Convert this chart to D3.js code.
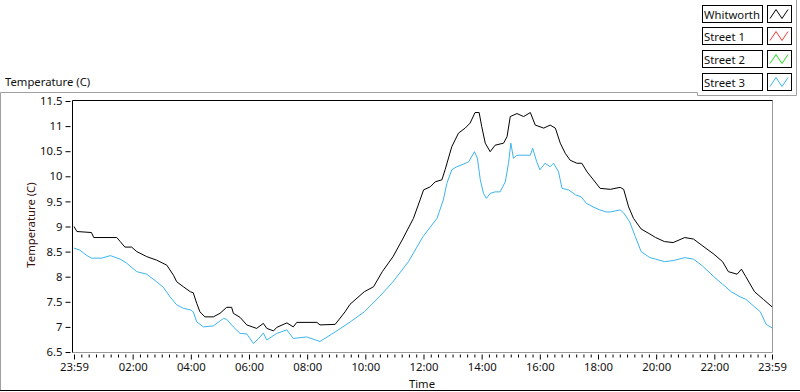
<!DOCTYPE html>
<html><head><meta charset="utf-8">
<script src="https://cdn.jsdelivr.net/npm/d3@7"></script>
<style>
html,body{margin:0;padding:0;background:#fff;}
svg{display:block;}
text{font-family:"Noto Sans","Open Sans",sans-serif;font-size:11.3px;fill:#111;}
</style></head>
<body>
<svg id="chart" width="800" height="392"></svg>
<script>
// ---- data (hours elapsed since 23:59, temperature in C) ----
const seriesNames = ["Whitworth", "Street 1", "Street 2", "Street 3"];
const seriesColors = ["#000000", "#f03c3c", "#1ee01e", "#3cb4f0"];

const whitworthHours = [0,0.1,0.6,0.68,1.47,1.59,1.75,1.98,2.16,2.5,2.84,3.19,3.42,3.53,3.76,4.0,4.1,4.22,4.33,4.5,4.79,5.02,5.25,5.42,5.48,5.71,5.94,6.28,6.51,6.63,6.86,6.97,7.32,7.54,7.66,8.35,8.46,8.98,9.32,9.49,9.98,10.3,10.6,10.97,11.3,11.67,11.9,12.02,12.25,12.42,12.65,12.76,12.99,13.22,13.45,13.62,13.79,13.93,14.02,14.14,14.31,14.48,14.77,14.89,15.0,15.23,15.46,15.69,15.86,16.15,16.37,16.55,16.72,16.89,17.06,17.29,17.46,17.64,17.86,18.09,18.44,18.78,18.9,19.07,19.24,19.5,19.8,20.0,20.3,20.6,21.0,21.3,21.6,22.0,22.3,22.5,22.8,22.95,23.1,23.4,23.7,24];
const whitworthTemps = [9.0,8.9,8.88,8.78,8.78,8.70,8.59,8.59,8.50,8.40,8.33,8.23,8.03,7.90,7.80,7.70,7.68,7.47,7.30,7.20,7.20,7.27,7.39,7.39,7.27,7.19,7.04,6.97,7.07,6.97,6.92,6.99,7.08,7.00,7.09,7.09,7.04,7.05,7.3,7.45,7.7,7.8,8.1,8.4,8.75,9.16,9.53,9.73,9.79,9.89,9.93,10.13,10.59,10.86,10.96,11.06,11.27,11.27,10.99,10.66,10.49,10.62,10.66,10.79,11.19,11.25,11.19,11.27,11.02,10.96,11.02,10.96,10.66,10.46,10.32,10.26,10.26,10.09,9.93,9.76,9.74,9.78,9.74,9.39,9.16,8.95,8.85,8.78,8.7,8.68,8.78,8.75,8.62,8.45,8.3,8.1,8.05,8.15,8.0,7.7,7.55,7.4];

const street3Hours = [0,0.2,0.42,0.6,0.95,1.25,1.59,1.81,2.16,2.5,2.84,3.07,3.3,3.53,3.76,4.0,4.1,4.22,4.45,4.79,5.14,5.25,5.48,5.71,5.94,6.17,6.4,6.51,6.63,6.97,7.32,7.54,8.0,8.46,8.98,9.5,9.98,10.5,10.97,11.5,12.0,12.48,12.7,12.82,12.99,13.16,13.34,13.57,13.77,13.87,13.97,14.08,14.18,14.31,14.48,14.65,14.83,14.94,15.02,15.11,15.23,15.46,15.69,15.77,15.91,16.02,16.2,16.37,16.49,16.66,16.78,17.0,17.25,17.44,17.62,17.85,18.08,18.3,18.44,18.78,18.9,19.1,19.3,19.5,19.8,20.0,20.3,20.6,21.0,21.3,21.6,22.0,22.3,22.6,22.9,23.1,23.4,23.6,23.8,24];
const street3Temps = [8.57,8.53,8.43,8.37,8.37,8.42,8.35,8.27,8.10,8.05,7.90,7.79,7.60,7.44,7.37,7.34,7.30,7.10,7.00,7.02,7.17,7.15,7.00,6.87,6.86,6.67,6.80,6.88,6.74,6.87,6.94,6.77,6.80,6.71,6.9,7.1,7.3,7.6,7.9,8.3,8.8,9.16,9.53,9.86,10.13,10.19,10.23,10.29,10.49,10.36,9.93,9.66,9.56,9.66,9.69,9.69,9.89,10.26,10.66,10.36,10.42,10.42,10.42,10.56,10.29,10.13,10.26,10.19,10.26,10.09,9.76,9.73,9.63,9.59,9.46,9.39,9.33,9.29,9.29,9.33,9.27,9.1,8.8,8.5,8.38,8.35,8.3,8.32,8.38,8.35,8.22,8.0,7.85,7.7,7.6,7.55,7.4,7.3,7.05,6.98];

const xTickHours = [0, 2.0167, 4.0167, 6.0167, 8.0167, 10.0167, 12.0167, 14.0167, 16.0167, 18.0167, 20.0167, 22.0167, 24];
const xTickLabels = ["23:59","02:00","04:00","06:00","08:00","10:00","12:00","14:00","16:00","18:00","20:00","22:00","23:59"];
const yTickValues = [6.5, 7, 7.5, 8, 8.5, 9, 9.5, 10, 10.5, 11, 11.5];
const yTickLabels = ["6.5","7","7.5","8","8.5","9","9.5","10","10.5","11","11.5"];

// ---- drawing ----
const svg = d3.select("#chart");
const plot = {left: 72.5, right: 772.5, top: 100.5, bottom: 352.5};

const x = d3.scaleLinear().domain([0, 24]).range([74, 772]);
const y = d3.scaleLinear().domain([6.5, 11.5]).range([352, 101]);

// outer frame
svg.append("path")
  .attr("d", "M0.5,390 L0.5,92.5 L697.5,92.5 L697.5,95.5 L796.5,95.5 L796.5,0")
  .attr("fill", "none").attr("stroke", "#a0a0a0");
svg.append("line").attr("x1", 0).attr("x2", 800).attr("y1", 390.5).attr("y2", 390.5)
  .attr("stroke", "#000");

// top-left title
svg.append("text").attr("x", 5).attr("y", 86).text("Temperature (C)");

// plot frame
svg.append("line").attr("x1", plot.left).attr("x2", plot.right).attr("y1", plot.bottom).attr("y2", plot.bottom).attr("stroke", "#9a9a9a");
svg.append("line").attr("x1", plot.right).attr("x2", plot.right).attr("y1", plot.top).attr("y2", plot.bottom).attr("stroke", "#9a9a9a");
svg.append("line").attr("x1", plot.left).attr("x2", plot.right).attr("y1", plot.top).attr("y2", plot.top).attr("stroke", "#000");
svg.append("line").attr("x1", plot.left).attr("x2", plot.left).attr("y1", plot.top).attr("y2", plot.bottom).attr("stroke", "#000");

// y axis
const yAxis = d3.axisLeft(y).tickValues(yTickValues)
  .tickFormat((d, i) => yTickLabels[i]).tickSize(5).tickPadding(3);
const gy = svg.append("g").attr("transform", "translate(70.5,0)").call(yAxis);
gy.select(".domain").remove();
gy.selectAll(".tick line").attr("stroke", "#000");
gy.selectAll("text").attr("font-family", null).attr("font-size", null).style("fill", "#111");

// x axis: major + minor
const minorHours = [];
for (let i = 0; i < xTickHours.length - 1; i++) {
  for (let k = 1; k < 8; k++) minorHours.push(xTickHours[i] + (xTickHours[i+1] - xTickHours[i]) * k / 8);
}
const gxMinor = svg.append("g").attr("transform", "translate(0,354.5)")
  .call(d3.axisBottom(x).tickValues(minorHours).tickFormat("").tickSize(3));
gxMinor.select(".domain").remove();
const gx = svg.append("g").attr("transform", "translate(0,354.5)")
  .call(d3.axisBottom(x).tickValues(xTickHours).tickFormat((d, i) => xTickLabels[i]).tickSize(5).tickPadding(3));
gx.select(".domain").remove();
gx.selectAll("text").attr("font-family", null).attr("font-size", null).style("fill", "#111");

// axis titles
svg.append("text").attr("x", 422).attr("y", 388).attr("text-anchor", "middle").text("Time");
svg.append("text").attr("transform", "translate(35,225) rotate(-90)").attr("text-anchor", "middle")
  .style("fill", "#3a1010").text("Temperature (C)");

// lines
const line = d3.line().x(d => x(d[0])).y(d => y(d[1]));
const clip = svg.append("clipPath").attr("id", "clip").append("rect")
  .attr("x", 73).attr("y", 101).attr("width", 699).attr("height", 251);
const g = svg.append("g").attr("clip-path", "url(#clip)");
g.append("path").datum(d3.zip(street3Hours, street3Temps)).attr("d", line)
  .attr("fill", "none").attr("stroke", seriesColors[3]).attr("stroke-width", 1);
g.append("path").datum(d3.zip(whitworthHours, whitworthTemps)).attr("d", line)
  .attr("fill", "none").attr("stroke", seriesColors[0]).attr("stroke-width", 1);

// legend
const lg = svg.append("g");
seriesNames.forEach((name, i) => {
  const y0 = 4.5 + i * 22.7;
  const r = lg.append("g").attr("transform", `translate(0,${Math.round(y0)+0.5})`);
  r.append("rect").attr("x", 702.5).attr("y", 0).attr("width", 60).attr("height", 17)
    .attr("fill", "#fff").attr("stroke", "#000");
  r.append("text").attr("x", 704).attr("y", 13).text(name);
  r.append("rect").attr("x", 767.5).attr("y", 0).attr("width", 24).attr("height", 17)
    .attr("fill", "#fff").attr("stroke", "#000");
  r.append("path").attr("d", "M770,13 L776,4 L782,13 L788,4")
    .attr("fill", "none").attr("stroke", seriesColors[i]).attr("stroke-width", 1);
});
</script>
</body></html>
